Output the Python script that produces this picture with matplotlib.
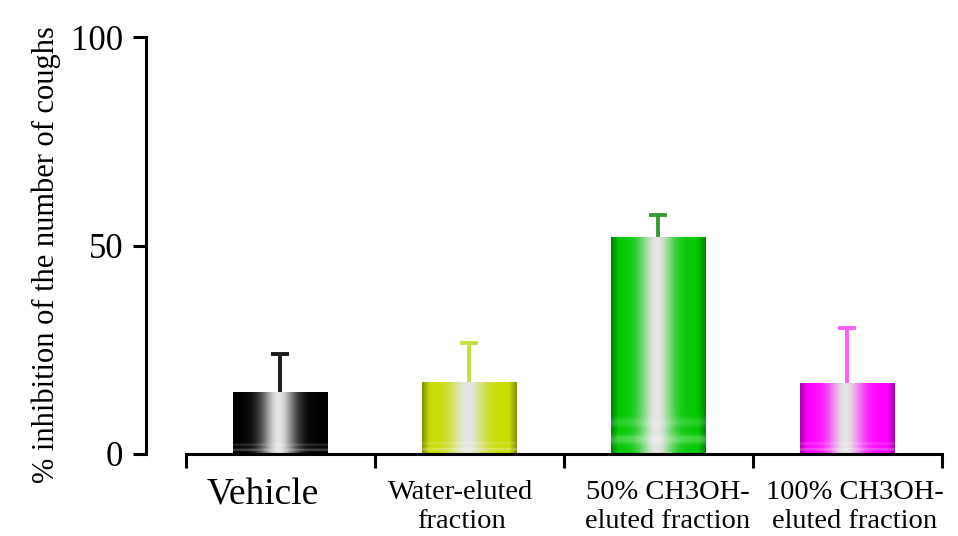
import numpy as np
import matplotlib
matplotlib.use("Agg")
import matplotlib.pyplot as plt
from matplotlib.colors import to_rgb

categories = ["Vehicle", "Water-eluted\nfraction", "50% CH3OH-\neluted fraction", "100% CH3OH-\neluted fraction"]
means = [14.9, 17.3, 52.0, 17.0]
sems = [9.1, 9.3, 5.4, 13.3]
bar_colors = ["#000000", "#c8dc00", "#00c800", "#ff00ff"]
err_colors = ["#1a1a1a", "#c4e040", "#3a9a3a", "#ff5cff"]
yticks = [0, 50, 100]

plt.rcParams["font.family"] = ["Liberation Serif", "DejaVu Serif"]

fig = plt.figure(figsize=(9.58, 5.36), dpi=100)
ax = fig.add_axes([146 / 958, 82 / 536, 805 / 958, 416.5 / 536])

x = np.arange(len(categories))
width = 0.5


def shaded(color, n=200):
    """Cylinder-like shading: saturated edges, bright highlight in the middle."""
    base = np.array(to_rgb(color))
    u = np.linspace(0, 1, n)
    glow = np.exp(-((u - 0.48) / 0.18) ** 2)
    edge = np.clip(1 - np.minimum(u, 1 - u) / 0.08, 0, 1) * 0.35
    rgb = base[None, :] * (1 - glow[:, None]) + np.array([1, 1, 1])[None, :] * glow[:, None] * 0.9
    rgb = rgb * (1 - edge[:, None])
    img = np.tile(rgb[None, :, :], (60, 1, 1))
    # faint horizontal bands near the base of the bar
    v = np.linspace(1, 0, 60)
    band = (np.exp(-((v - 0.06) / 0.02) ** 2) + 0.6 * np.exp(-((v - 0.14) / 0.02) ** 2)) * 0.3
    img = img * (1 - band[:, None, None]) + band[:, None, None]
    return np.clip(img, 0, 1)


for xi, m, c in zip(x, means, bar_colors):
    patch = ax.bar(xi, m, width=width, color="none", edgecolor="none")[0]
    im = ax.imshow(shaded(c), extent=[xi - width / 2, xi + width / 2, 0, m],
                   aspect="auto", zorder=2, interpolation="bilinear")
    im.set_clip_path(patch)

# upper error bars only (cap on the top end)
for xi, m, s, ec in zip(x, means, sems, err_colors):
    eb = ax.errorbar(xi, m, yerr=[[0], [s]], fmt="none", ecolor=ec, elinewidth=2.8,
                     capsize=6.5, capthick=2.8, zorder=3)
    for cap in eb[1]:
        if np.allclose(cap.get_ydata(), m):
            cap.set_visible(False)

ax.set_xlim(-0.712, 3.55)
ax.set_ylim(0, 100)

for side in ["top", "right"]:
    ax.spines[side].set_visible(False)
ax.spines["left"].set_linewidth(2.2)
ax.spines["bottom"].set_linewidth(2.2)
ax.spines["left"].set_bounds(0, 100)
ax.spines["bottom"].set_bounds(-0.5, 3.5)

ax.set_yticks(yticks)
ax.set_yticklabels([str(t) for t in yticks], fontsize=25)
ax.tick_params(axis="y", direction="out", length=9.5, width=2.2, pad=7)
ax.set_xticks(np.arange(-0.5, 4.0, 1.0))
ax.set_xticklabels([])
ax.tick_params(axis="x", direction="out", length=10, width=2.2)

ax.set_ylabel("% inhibition of the number of coughs", fontsize=22, va="center")
ax.yaxis.set_label_coords(-0.124, 0.48)

label_pos = [(263, 495, 27), (461, 507, 20.5), (668, 507, 20.5), (855, 507, 20.5)]
for lab, (px, py, fs) in zip(categories, label_pos):
    fig.text(px / 958, 1 - py / 536, lab, ha="center", va="center",
             fontsize=fs, linespacing=1.2)

fig.savefig("out.png", dpi=100)
